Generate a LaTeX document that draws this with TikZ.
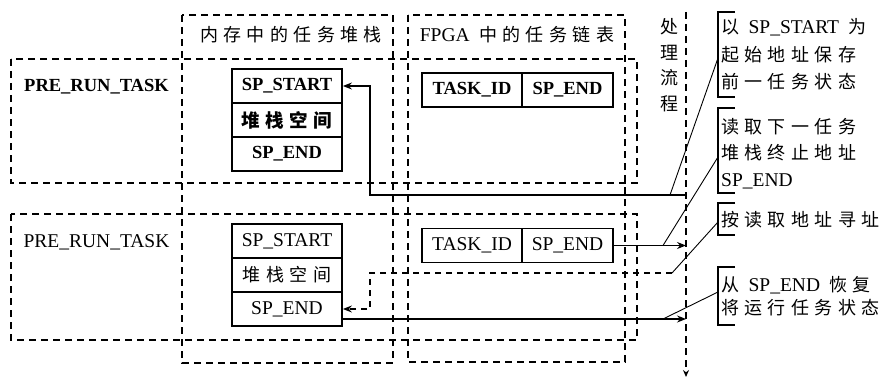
\documentclass[tikz,border=0pt]{standalone}
\usepackage{fontspec}
\setmainfont{Liberation Serif}
\newfontfamily\serifl{Liberation Serif}
\newfontfamily\cjk[LetterSpace=30]{Noto Sans CJK SC}
\usetikzlibrary{arrows.meta,calc}
\newcommand\latn[1]{{\serifl\fontsize{19.5}{27}\selectfont #1}}
\begin{document}
\begin{tikzpicture}[x=1pt,y=-1pt,
  dbox/.style={draw, dash pattern=on 7pt off 5pt, line width=1.6pt},
  cell/.style={draw, line width=1.8pt, minimum height=34pt, inner sep=0pt,
    font=\fontsize{19.5}{22}\selectfont},
  bcell/.style={cell, font=\fontsize{18.5}{22}\selectfont\bfseries},
  conn/.style={line width=1.4pt, -{Stealth[length=9pt,width=7pt,inset=3pt]}},
  dconn/.style={line width=1.4pt, dash pattern=on 6pt off 5pt, -{Stealth[length=9pt,width=7pt,inset=3pt]}},
  cl/.style={line width=0.9pt},
  brk/.style={line width=1.8pt},
  ctext/.style={anchor=west, inner sep=0pt, align=left},
  lbl/.style={inner sep=0pt}
]
\useasboundingbox (0,0) rectangle (885,377);

% dashed frames
\draw[dbox] (182,15) rectangle (393,363);
\draw[dbox] (408,15) rectangle (625,362);
\draw[dbox] (11,59) rectangle (637,183);
\draw[dbox] (11,214) rectangle (637,340);
\draw[dbox, -{Stealth[length=7pt,width=6pt]}] (686,12) -- (686,377);

% headers
\node[lbl, font=\cjk\fontsize{18}{22}\selectfont] (h1) at (291,35) {内存中的任务堆栈};
\node[lbl, font=\cjk\fontsize{18}{22}\selectfont] (h2) at (517,35) {\latn{FPGA} 中的任务链表};
\node[lbl, align=center, font=\cjk\fontsize{18}{25.5}\selectfont] (proc) at (669,65) {处\\理\\流\\程};

% row labels
\node[lbl, font=\fontsize{18.5}{22}\selectfont\bfseries] (r1) at (96.5,87) {PRE\_RUN\_TASK};
\node[lbl, font=\fontsize{19.5}{22}\selectfont] (r2) at (96.5,242) {PRE\_RUN\_TASK};

% memory stacks
\node[bcell, minimum width=110pt] (m1a) at (287,86) {SP\_START};
\node[bcell, minimum width=110pt] (m1b) at (287,120) {\cjk\bfseries 堆栈空间};
\node[bcell, minimum width=110pt] (m1c) at (287,154) {SP\_END};
\node[cell, minimum width=110pt] (m2a) at (287,241) {SP\_START};
\node[cell, minimum width=110pt] (m2b) at (287,275) {\cjk\fontsize{18}{22}\selectfont 堆栈空间};
\node[cell, minimum width=110pt] (m2c) at (287,309) {SP\_END};

% FPGA list
\node[bcell, minimum width=100pt] (f1a) at (472,90) {TASK\_ID};
\node[bcell, minimum width=91pt] (f1b) at (567.5,90) {SP\_END};
\node[cell, minimum width=100pt] (f2a) at (472,245.5) {TASK\_ID};
\node[cell, minimum width=91pt] (f2b) at (567.5,245.5) {SP\_END};

% coordinates
\coordinate (p1) at (686,195);
\coordinate (k1) at (370,195);
\coordinate (p2) at (686,245.5);
\coordinate (d1) at (672,273);
\coordinate (d2) at (370,273);
\coordinate (p4) at (686,319);
\coordinate (e1) at (670,195);
\coordinate (e2) at (663,245.5);
\coordinate (e4) at (663,319);
\coordinate (b1) at (718,58);
\coordinate (b2) at (718,157);
\coordinate (b3) at (718,222);
\coordinate (b4) at (718,292);

% connectors
\draw[conn] (p1) -- (k1) |- (m1a.east);
\draw[conn] (f2b.east) -- (p2);
\draw[dconn] (d1) -- (d2) |- (m2c.east);
\draw[conn] ($(m2c.east)+(0,10)$) -- (p4);

% brackets
\draw[brk] (735,12) -- (718,12) -- (718,97) -- (735,97);
\draw[brk] (735,108) -- (718,108) -- (718,193) -- (735,193);
\draw[brk] (735,203) -- (718,203) -- (718,235) -- (735,235);
\draw[brk] (735,267) -- (718,267) -- (718,325) -- (735,325);

% callout texts
\node[ctext, font=\cjk\fontsize{18}{27.5}\selectfont] (t1) at (721,54.5)
  {以 \latn{SP\_START} 为\\起始地址保存\\前一任务状态};
\node[ctext, font=\cjk\fontsize{18}{26.5}\selectfont] (t2) at (721,153.5)
  {读取下一任务\\堆栈终止地址\\\latn{SP\_END}};
\node[ctext, font=\cjk\fontsize{18}{22}\selectfont] (t3) at (721,220)
  {按读取地址寻址};
\node[ctext, font=\cjk\fontsize{18}{23}\selectfont] (t4) at (721,296.5)
  {从 \latn{SP\_END} 恢复\\将运行任务状态};

% callout lines
\draw[cl] (b1) -- (e1);
\draw[cl] (b2) -- (e2);
\draw[cl] (b3) -- (d1);
\draw[cl] (b4) -- (e4);
\end{tikzpicture}
\end{document}
